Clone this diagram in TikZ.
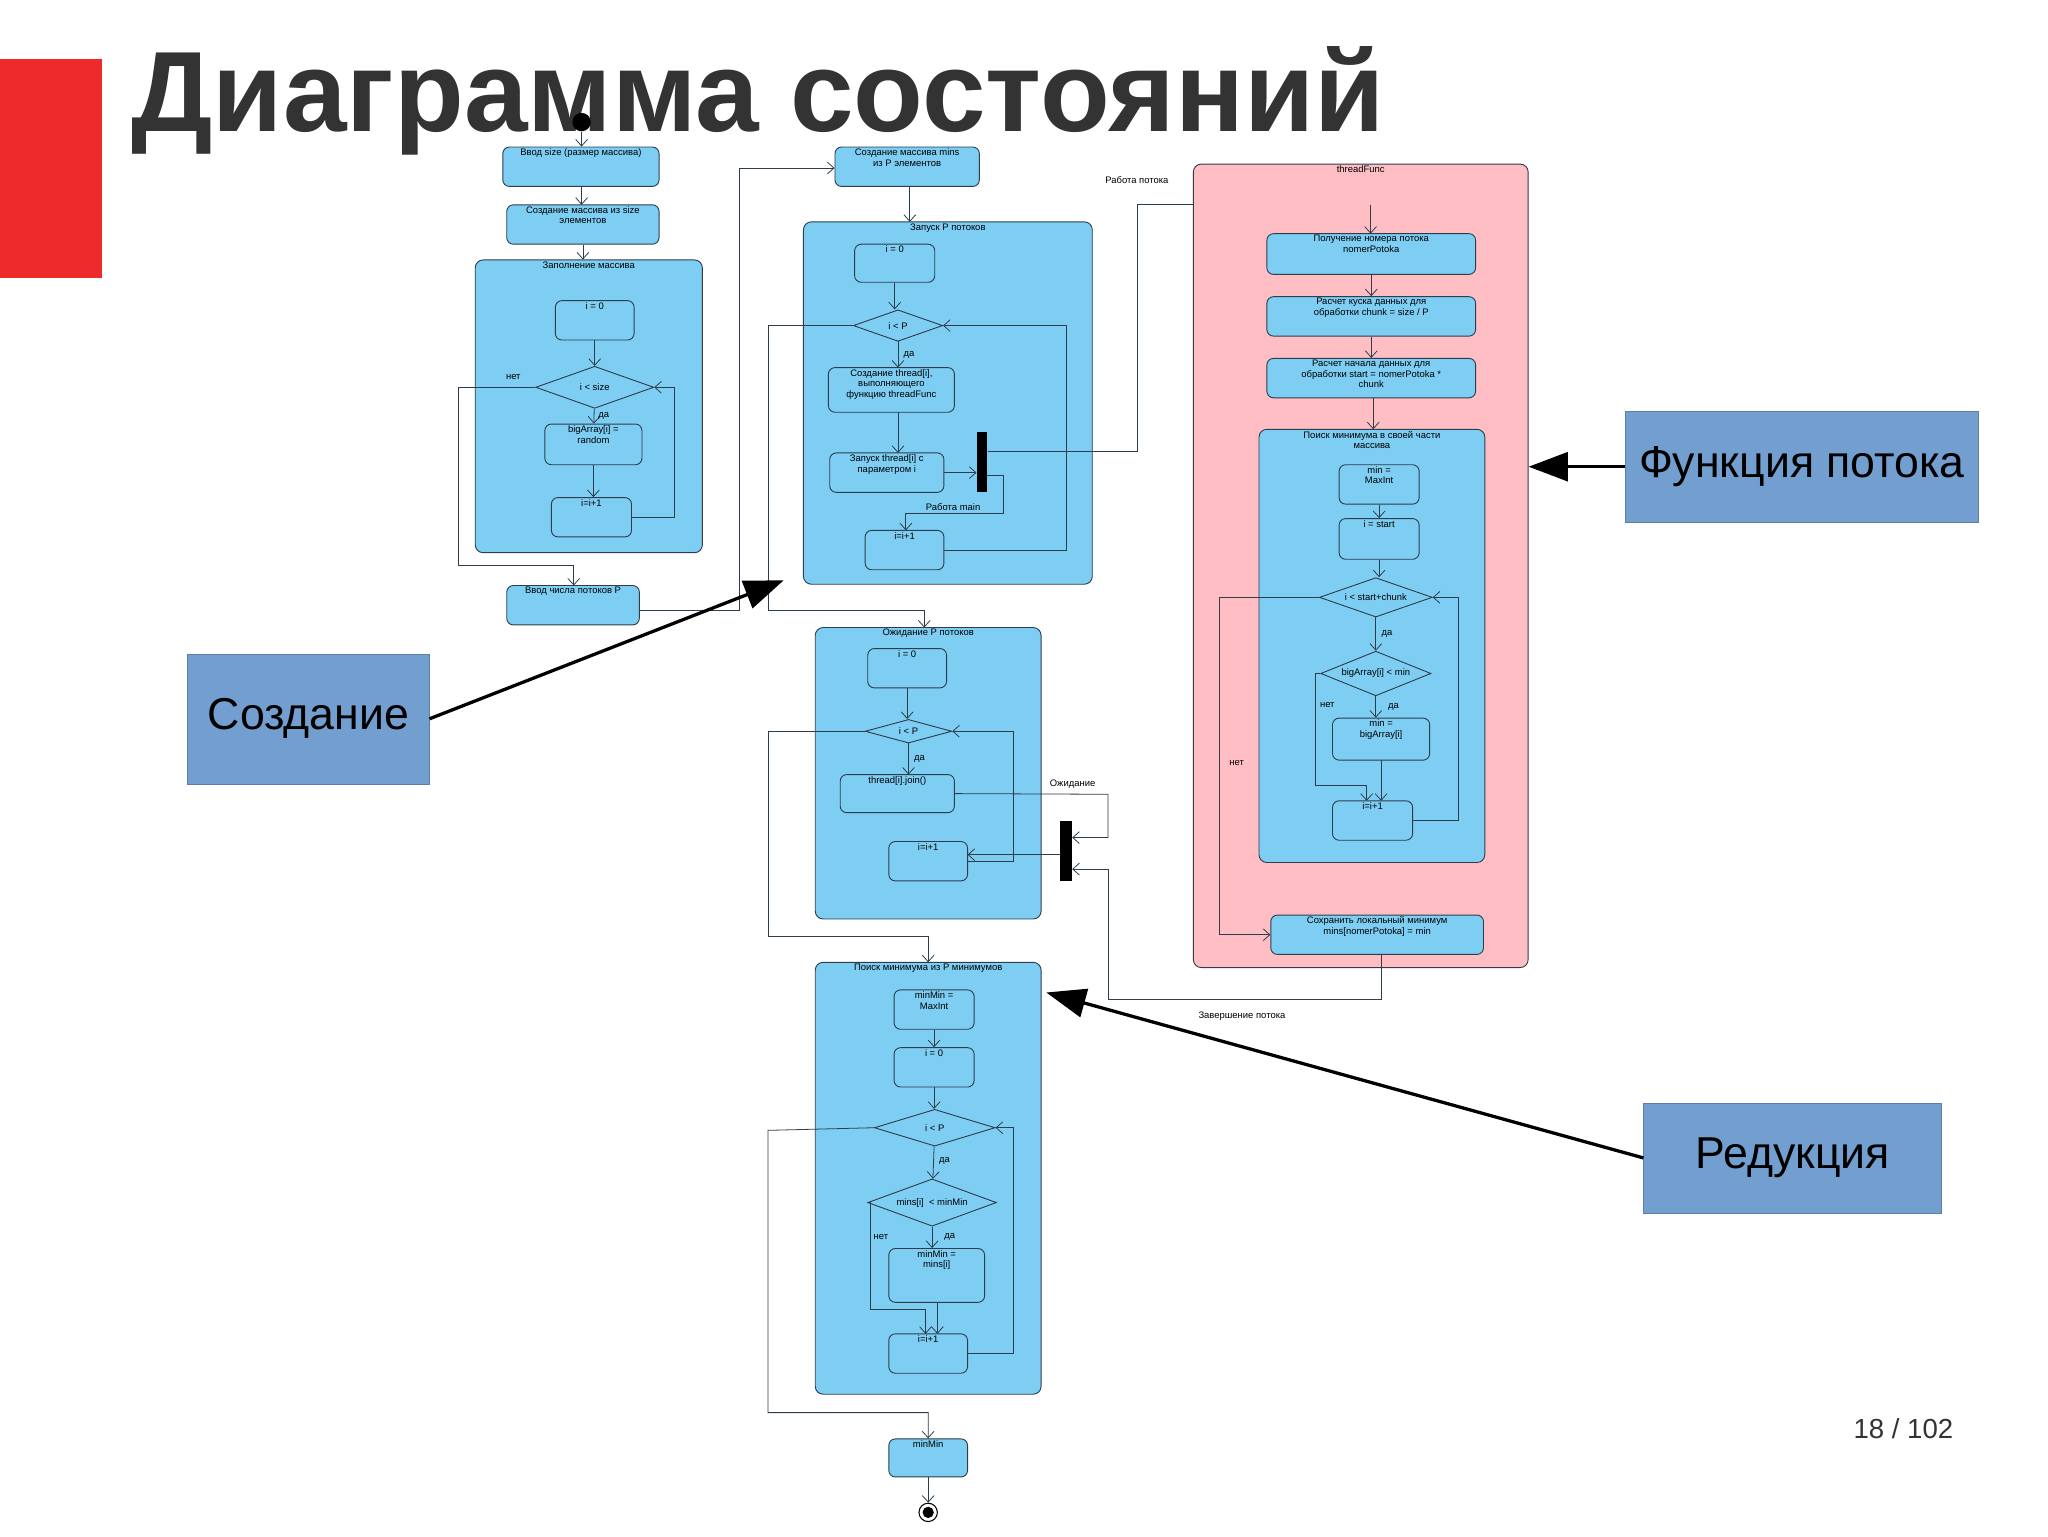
\documentclass[tikz,border=0pt]{standalone}
\usepackage{fontspec}
\setmainfont{Liberation Sans}
\usetikzlibrary{arrows.meta,shapes.geometric}
\definecolor{lb}{HTML}{7ECEF4}
\definecolor{pk}{HTML}{FFBEC4}
\definecolor{ed}{HTML}{2E3D4C}
\definecolor{cb}{HTML}{729FCF}
\definecolor{ttl}{HTML}{333333}
\definecolor{rd}{HTML}{EE2A2A}
\newcommand{\bx}[7][]{\node[box,#1,minimum width={#5-#3},minimum height={#6-#4}] (#2) at ({(#3+#5)/2},{(#4+#6)/2}) {};
 \node[lbl,below=0.5pt] at (#2.north) {#7};}
\newcommand{\dm}[5]{\node[dia,minimum width={2*#4},minimum height={2*#5}] (#1) at (#2,#3) {};}
\begin{document}
\begin{tikzpicture}[x=1pt,y=-1pt,
 box/.style={draw=ed,fill=lb,rounded corners=5pt,line width=0.7pt,inner sep=0pt},
 grp/.style={box,rounded corners=6pt},
 dia/.style={draw=ed,fill=lb,diamond,inner sep=0pt,line width=0.7pt},
 lbl/.style={font=\fontsize{7.2}{8}\selectfont,align=center,text=black,inner sep=1pt},
 tl/.style={font=\fontsize{7.2}{8}\selectfont,text=black,inner sep=1pt},
 arr/.style={draw=ed,line width=0.6pt,-{Straight Barb[length=5pt,width=9pt]}},
 ln/.style={draw=ed,line width=0.6pt},
 big/.style={line width=2.5pt,-{Triangle[length=30pt,width=22pt]}},
 call/.style={draw=cb!80!black,fill=cb,font=\fontsize{34}{40}\selectfont,inner sep=0pt}]
\useasboundingbox (0,0) rectangle (1560,1170);
\fill[white] (0,0) rectangle (1560,1170);
\fill[rd] (0,45) rectangle (78,212);
\node[anchor=base west,font=\bfseries\fontsize{87}{100}\selectfont,text=ttl,inner sep=0pt] (title) at (100,100) {Диаграмма состояний};
\node[anchor=base east,font=\fontsize{21}{25}\selectfont,text=black!80,inner sep=0pt] (pg) at (1488,1096) {18 / 102};
% left column
\node[circle,fill=black,minimum size=14pt,inner sep=0pt] (start) at (443,93) {};
\bx{n1}{383}{112}{502}{142}{Ввод size (размер массива)}
\bx{n2}{386}{156}{502}{186}{Создание массива из size\\элементов}
\bx[grp]{G1}{362}{198}{535}{421}{Заполнение массива}
\bx{a1}{423}{229}{483}{259}{i = 0}
\dm{d1}{453}{295}{45}{16}
\node[lbl] at (d1) {i < size};
\bx{b1}{415}{323}{489}{354}{bigArray[i] =\\random}
\bx{c1}{420}{379}{481}{409}{i=i+1}
\bx{n3}{386}{446}{487}{476}{Ввод числа потоков P}
\draw[arr] (start) -- (start|-n1.north);
\draw[arr] (n1.south-|443,0) -- (443,156);
\draw[arr] (n2) -- (n2|-G1.north);
\draw[arr] (a1) -- (d1);
\draw[arr] (d1) -- (b1) node[tl,pos=0.5,right=2pt] {да};
\draw[arr] (b1) -- (b1|-c1.north);
\draw[arr] (c1.east) -- (514,394) -- (514,295) -- (d1.east);
\draw[arr] (d1.west) -- (349,295) -- (349,431) -- (437,431) -- (437,446);
\node[tl] at (391,287) {нет};
% G2
\bx{n4}{636}{112}{746}{142}{Создание массива mins\\из P элементов}
\bx[grp]{G2}{612}{169}{832}{445}{Запуск P потоков}
\bx{a2}{651}{186}{712}{215}{i = 0}
\dm{d2}{684}{248}{34}{12}
\node[lbl] at (d2) {i < P};
\bx{b2}{631}{280}{727}{314}{Создание thread[i],\\выполняющего\\функцию threadFunc}
\bx{e2}{632}{345}{719}{375}{Запуск thread[i] с\\параметром i}
\node[fill=black,minimum width=8pt,minimum height=46pt,inner sep=0pt] (bar1) at (748,352) {};
\bx{c2}{659}{404}{719}{434}{i=i+1}
\draw[arr] (n3.east|-0,465) -- (563,465) -- (563,128) -- (n4.west|-0,128);
\draw[arr] (n4.south-|693,0) -- (693,169);
\draw[arr] (a2) -- (a2|-d2.north);
\draw[arr] (684,260) -- (684,280) node[tl,pos=0.5,right=3pt] {да};
\draw[arr] (684,314) -- (684,345);
\draw[arr] (e2.east) -- (bar1.west|-e2.east);
\draw[ln] (bar1.east|-0,344) -- (866,344) -- (866,156) -- (1044,156);
\node[tl] at (866,137) {Работа потока};
\draw[arr] (752,362) -- (764,362) -- (764,391) -- (690,391) -- (690,404);
\node[tl] at (726,386) {Работа main};
\draw[arr] (c2.east) -- (812,419) -- (812,248) -- (d2.east);
\draw[arr] (d2.west) -- (585,248) -- (585,465) -- (704,465) -- (704,478);
% G3
\bx[grp]{G3}{621}{478}{793}{700}{Ожидание P потоков}
\bx{a3}{661}{494}{721}{524}{i = 0}
\dm{d3}{692}{557}{33}{9}
\node[lbl] at (d3) {i < P};
\bx{b3}{640}{590}{727}{619}{thread[i].join()}
\bx{c3}{677}{641}{737}{671}{i=i+1}
\node[fill=black,minimum width=9pt,minimum height=46pt,inner sep=0pt] (bar2) at (812,648) {};
\draw[arr] (a3) -- (a3|-d3.north);
\draw[arr] (692,566) -- (692,590) node[tl,pos=0.5,right=3pt] {да};
\draw[arr] (b3.east) -- (844,605) -- (844,638) -- (bar2.east|-0,638);
\node[tl] at (817,597) {Ожидание};
\draw[arr] (bar2.west|-0,651) -- (737,651);
\draw[arr] (737,656) -- (772,656) -- (772,557) -- (d3.east);
\draw[arr] (d3.west) -- (585,557) -- (585,713) -- (707,713) -- (707,733);
% G4
\bx[grp]{G4}{621}{733}{793}{1062}{Поиск минимума из P минимумов}
\bx{a4}{681}{754}{742}{784}{minMin =\\MaxInt}
\bx{b4}{681}{798}{742}{828}{i = 0}
\dm{d4}{712}{859}{46}{14}
\node[lbl] at (d4) {i < P};
\dm{e4}{710}{916}{49}{18}
\node[lbl] at (e4) {mins[i] \ < minMin};
\bx{f4}{677}{951}{750}{992}{minMin =\\mins[i]}
\bx{c4}{677}{1016}{737}{1046}{i=i+1}
\bx{fin}{677}{1096}{737}{1125}{minMin}
\node[circle,draw=black,line width=0.8pt,minimum size=14pt,inner sep=0pt] (endc) at (707,1152) {};
\fill[black] (endc) circle (4.3pt);
\draw[arr] (a4) -- (a4|-b4.north);
\draw[arr] (b4) -- (b4|-d4.north);
\draw[arr] (d4) -- (e4) node[tl,pos=0.45,right=3pt] {да};
\draw[arr] (e4) -- (e4|-f4.north) node[tl,pos=0.5,right=8pt] {да};
\draw[arr] (e4.west) -- (663,916) -- (663,997) -- (705,997) -- (705,1016);
\node[tl] at (671,942) {нет};
\draw[arr] (714,992) -- (714,1016);
\draw[arr] (c4.east) -- (772,1031) -- (772,859) -- (d4.east);
\draw[arr] (d4.west) -- (585,861) -- (585,1076) -- (707,1076) -- (fin.north);
\draw[arr] (fin) -- (endc);
% threadFunc
\node[draw=ed,fill=pk,rounded corners=6pt,line width=0.7pt,minimum width=255pt,minimum height=612pt,inner sep=0pt] (T) at (1036.5,431) {};
\node[lbl,below=0.5pt] at (T.north) {threadFunc};
\bx{t1}{965}{178}{1124}{209}{Получение номера потока\\nomerPotoka}
\bx{t2}{965}{226}{1124}{256}{Расчет куска данных для\\обработки chunk = size / P}
\bx{t3}{965}{273}{1124}{303}{Расчет начала данных для\\обработки start = nomerPotoka *\\chunk}
\bx[grp]{G5}{959}{327}{1131}{657}{Поиск минимума в своей части\\массива}
\bx{g1}{1020}{354}{1081}{384}{min =\\MaxInt}
\bx{g2}{1020}{395}{1081}{426}{i = start}
\dm{d5}{1048}{455}{43}{15}
\node[lbl] at (d5) {i < start+chunk};
\dm{e5}{1048}{513}{42}{17}
\node[lbl] at (e5) {bigArray[i] < min};
\bx{f5}{1015}{547}{1089}{579}{min =\\bigArray[i]}
\bx{c5}{1015}{610}{1076}{640}{i=i+1}
\bx{s}{968}{697}{1130}{727}{Сохранить локальный минимум\\mins[nomerPotoka] = min}
\draw[arr] (1044,156) -- (1044,178);
\draw[arr] (t1) -- (t2);
\draw[arr] (t2) -- (t3);
\draw[arr] (t3.south-|1046,0) -- (1046,327);
\draw[arr] (g1) -- (g2);
\draw[arr] (g2) -- (g2|-d5.north);
\draw[arr] (d5) -- (e5) node[tl,pos=0.5,right=3pt] {да};
\draw[arr] (e5) -- (e5|-f5.north) node[tl,pos=0.5,right=8pt] {да};
\draw[arr] (e5.west) -- (1002,513) -- (1002,598) -- (1041,598) -- (1041,610);
\node[tl] at (1011,537) {нет};
\draw[arr] (1052,579) -- (1052,610);
\draw[arr] (c5.east) -- (1111,625) -- (1111,455) -- (d5.east);
\draw[arr] (d5.west) -- (929,455) -- (929,712) -- (s.west|-0,712);
\node[tl] at (942,581) {нет};
\draw[arr] (s.south-|1052,0) -- (1052,761) -- (844,761) -- (844,662) -- (bar2.east|-0,662);
\node[tl] at (946,774) {Завершение потока};
% callouts
\node[call,minimum width=269pt,minimum height=85pt] (cf) at (1372.5,355.5) {Функция потока};
\node[call,minimum width=184pt,minimum height=99pt] (cs) at (235,547.5) {Создание};
\node[call,minimum width=227pt,minimum height=84pt] (cr) at (1365.5,882) {Редукция};
\draw[big] (cf.west) -- (T.east|-cf.west);
\draw[big] (cs.east) -- (597,442);
\draw[big] (cr.west) -- (797,756);
\end{tikzpicture}
\end{document}
